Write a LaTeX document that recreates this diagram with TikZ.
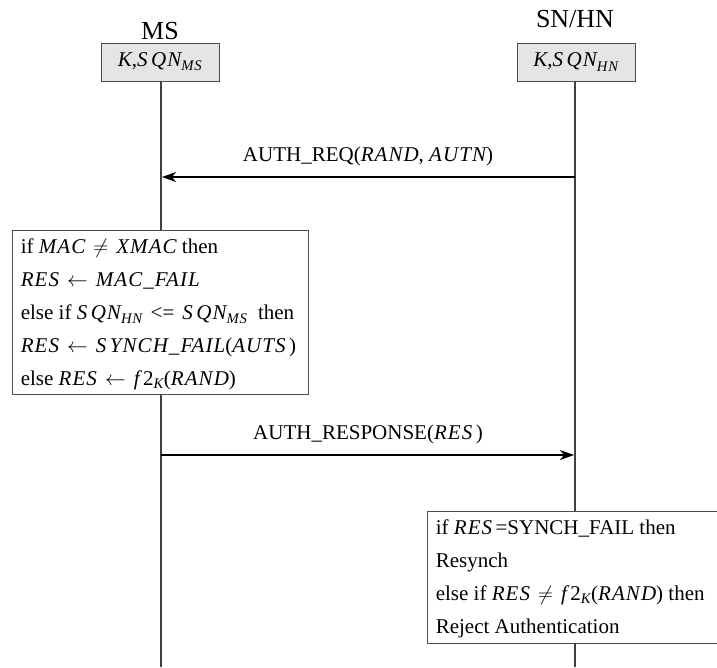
\documentclass[tikz,border=0pt]{standalone}
\usepackage{amsmath}
\usepackage{fontspec}
\setmainfont{Liberation Serif}
\newfontfamily\mvarfont{Liberation Serif}[LetterSpace=5]
\usetikzlibrary{arrows.meta}
\newcommand{\vi}[1]{\text{\mvarfont\itshape #1}}
\newcommand{\tp}[1]{\text{#1}}
\thickmuskip=7mu plus 5mu
\begin{document}
\begin{tikzpicture}[x=1pt,y=-1pt,
  titlelbl/.style={font=\fontsize{26}{30}\selectfont, inner sep=0pt},
  keybox/.style={draw=black!70, fill=black!10, line width=0.8pt, minimum width=118pt, minimum height=38pt, inner sep=0pt, font=\fontsize{21}{25}\selectfont},
  lifeline/.style={draw=black!75, line width=2.2pt},
  decbox/.style={draw=black!70, fill=white, line width=0.8pt, inner sep=0pt},
  dectext/.style={align=left, inner sep=0pt, anchor=west, font=\fontsize{21}{33}\selectfont},
  msgarrow/.style={draw=black, line width=1.6pt, -{Stealth[length=14pt,width=10pt,inset=4pt]}},
  msglbl/.style={font=\fontsize{21}{25}\selectfont, inner sep=0pt}]
\useasboundingbox (0,0) rectangle (717,667);
% headers
\node[titlelbl] (msT) at (160,31) {MS};
\node[titlelbl] (hnT) at (575,19) {SN/HN};
\node[keybox] (msB) at (160,62) {$\vi{K}\tp{,}\vi{S\,QN}_{\vi{MS}}$};
\node[keybox] (hnB) at (576,62) {$\vi{K}\tp{,}\vi{S\,QN}_{\vi{HN}}$};
% lifelines
\coordinate (msEnd) at (161,667);
\coordinate (hnEnd) at (575,667);
\draw[lifeline] (msB.south -| msEnd) -- (msEnd);
\draw[lifeline] (hnB.south -| hnEnd) -- (hnEnd);
% message 1
\coordinate (m1s) at (575,177);
\coordinate (m1e) at (162,177);
\draw[msgarrow] (m1s) -- (m1e);
\node[msglbl] (m1l) at (368,156) {AUTH\_REQ($\vi{RAND}\tp{,}\ \vi{AUTN}$)};
% MS decision box
\node[decbox, minimum width=296pt, minimum height=164pt] (msD) at (160,312) {};
\node[dectext] (msDT) at ([xshift=9pt,yshift=-2pt]msD.west)
{if $\vi{MAC} \neq \vi{XMAC}$ then\\
$\vi{RES} \leftarrow \vi{MAC\_FAIL}$\\
else if $\vi{S\,QN}_{\vi{HN}} \mathrel{\tp{<=}} \vi{S\,QN}_{\vi{MS}}$\ \ then\\
$\vi{RES} \leftarrow \vi{S\,YNCH\_FAIL}\tp{(}\vi{AUTS}\,\tp{)}$\\
else $\vi{RES} \leftarrow \vi{f\,}\tp{2}_{\vi{K}}\tp{(}\vi{RAND}\tp{)}$};
% message 2
\coordinate (m2s) at (161,455);
\coordinate (m2e) at (574,455);
\draw[msgarrow] (m2s) -- (m2e);
\node[msglbl] (m2l) at (368,434) {AUTH\_RESPONSE($\vi{RES}\,$)};
% HN decision box
\node[decbox, minimum width=290pt, minimum height=132pt] (hnD) at (572,577) {};
\node[dectext] (hnDT) at ([xshift=9pt,yshift=-2pt]hnD.west)
{if $\vi{RES}$\,=SYNCH\_FAIL then\\
Resynch\\
else if $\vi{RES} \neq \vi{f\,}\tp{2}_{\vi{K}}\tp{(}\vi{RAND}\tp{)}$ then\\
Reject Authentication};
\end{tikzpicture}
\end{document}
